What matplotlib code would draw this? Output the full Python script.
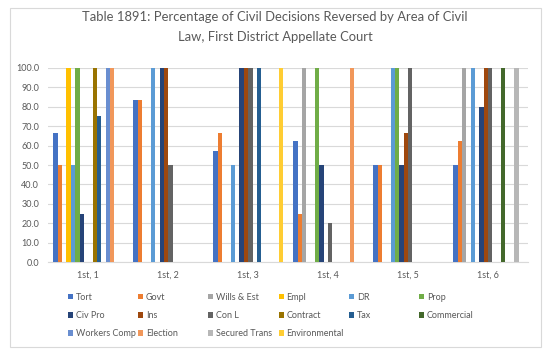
import matplotlib.pyplot as plt
import numpy as np
from matplotlib.patches import Rectangle

plt.rcParams['font.family'] = ['Lato', 'DejaVu Sans']

groups = ['1st, 1', '1st, 2', '1st, 3', '1st, 4', '1st, 5', '1st, 6']

series = ['Tort', 'Govt', 'Wills & Est', 'Empl', 'DR', 'Prop',
          'Civ Pro', 'Ins', 'Con L', 'Contract', 'Tax', 'Commercial',
          'Workers Comp', 'Election', 'Secured Trans', 'Environmental']

colors = ['#4472C4', '#ED7D31', '#A5A5A5', '#FFC000', '#5B9BD5', '#70AD47',
          '#264478', '#9E480E', '#636363', '#997300', '#255E91', '#43682B',
          '#698ED0', '#F1975A', '#B7B7B7', '#FFCD33']

# values per series, one entry per group (1st, 1 ... 1st, 6)
tort = [66.7, 83.3, 57.1, 62.5, 50.0, 50.0]
govt = [50.0, 83.3, 66.7, 25.0, 50.0, 62.5]
wills = [0, 0, 0, 100.0, 0, 100.0]
empl = [100.0, 0, 0, 0, 0, 0]
dr = [50.0, 100.0, 50.0, 0, 100.0, 100.0]
prop = [100.0, 0, 0, 100.0, 100.0, 0]
civ_pro = [25.0, 100.0, 100.0, 50.0, 50.0, 80.0]
ins = [0, 100.0, 100.0, 0, 66.7, 100.0]
con_l = [0, 50.0, 100.0, 20.0, 100.0, 100.0]
contract = [100.0, 0, 0, 0, 0, 0]
tax = [75.0, 0, 100.0, 0, 0, 0]
commercial = [0, 0, 0, 0, 0, 100.0]
workers = [100.0, 0, 0, 0, 0, 0]
election = [100.0, 0, 0, 100.0, 0, 0]
secured = [0, 0, 0, 0, 0, 100.0]
environmental = [0, 0, 100.0, 0, 0, 0]

values = [tort, govt, wills, empl, dr, prop, civ_pro, ins, con_l, contract,
          tax, commercial, workers, election, secured, environmental]

txt = '#595959'
fs = 6.5
fig = plt.figure(figsize=(5.5, 3.56), dpi=100)
fig.patches.append(Rectangle((0.018, 0.025), 0.9655, 0.952, transform=fig.transFigure,
                             fill=False, edgecolor='#D9D9D9', linewidth=0.8))

ax = fig.add_axes([0.0878, 0.2632, 0.8722, 0.5466])
x = np.arange(len(groups))
w = 0.0545
handles = []
for j, (name, vals) in enumerate(zip(series, values)):
    b = ax.bar(x + (j - 7.5) * w, vals, width=w, color=colors[j], label=name, zorder=3)
    handles.append(b)

ax.set_xlim(-0.5, len(groups) - 0.5)
ax.set_ylim(0, 100)
ax.set_yticks(np.arange(0, 101, 10))
ax.set_yticklabels(['%.1f' % v for v in np.arange(0, 101, 10)])
ax.set_xticks(x)
ax.set_xticklabels(groups)
ax.tick_params(axis='both', length=0, labelsize=fs, labelcolor=txt)
ax.tick_params(axis='x', pad=6)
ax.tick_params(axis='y', pad=6.5)
ax.grid(axis='y', color='#D9D9D9', linewidth=0.8, zorder=0)
for s in ['top', 'right', 'left']:
    ax.spines[s].set_visible(False)
ax.spines['bottom'].set_color('#D9D9D9')

fig.text(0.5, 0.952, 'Table 1891: Percentage of Civil Decisions Reversed by Area of Civil',
         ha='center', va='center', fontsize=9.4, color=txt)
fig.text(0.5, 0.896, 'Law, First District Appellate Court',
         ha='center', va='center', fontsize=9.4, color=txt)

# legend laid out row by row, one legend per column
col_x = [67.7, 138.0, 208.3, 278.6, 348.9, 419.2]
for c in range(6):
    idx = [r * 6 + c for r in range(3) if r * 6 + c < len(series)]
    leg = fig.legend([handles[i] for i in idx], [series[i] for i in idx],
                     loc='upper left', bbox_to_anchor=(col_x[c] / 550, 1 - 292.5 / 356),
                     frameon=False, fontsize=fs, labelcolor=txt, borderpad=0,
                     borderaxespad=0, handlelength=0.57, handleheight=0.57,
                     handletextpad=0.3, labelspacing=1.05)

plt.savefig('out.png', dpi=100)
